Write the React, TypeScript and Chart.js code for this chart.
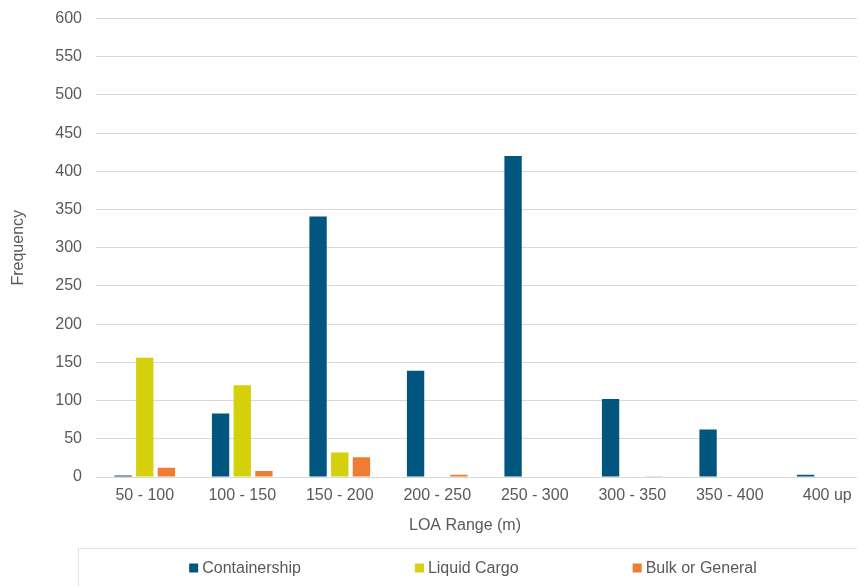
import React, { useEffect, useRef } from "react";
import { Chart, registerables } from "chart.js";

Chart.register(...registerables);

const categories = ["50 - 100", "100 - 150", "150 - 200", "200 - 250", "250 - 300", "300 - 350", "350 - 400", "400 up"];
const containership = [2, 83, 341, 139, 420, 102, 62, 3];
const liquidCargo = [156, 120, 32, 0, 0, 0, 0, 0];
const bulkOrGeneral = [12, 8, 26, 3, 0, 1, 0, 0];
const seriesNames = ["Containership", "Liquid Cargo", "Bulk or General"];
const seriesColors = ["#00567F", "#D4D00B", "#EE7D31"];
const xTitle = "LOA Range (m)";
const yTitle = "Frequency";

const FONT = "'Liberation Sans', Arial, sans-serif";
const TEXT = "#595959";

const decorPlugin = {
  id: "decor",
  afterDraw(chart: any) {
    const { ctx, chartArea } = chart;
    ctx.save();
    // x-axis title
    ctx.font = `16px ${FONT}`;
    ctx.fillStyle = TEXT;
    ctx.textAlign = "center";
    ctx.textBaseline = "middle";
    const cx = 457;
    ctx.fillText(xTitle, cx, chartArea.bottom + 49);
    // legend frame
    ctx.strokeStyle = "#e3e3e3";
    ctx.lineWidth = 1;
    ctx.strokeRect(70.5, chartArea.bottom + 71.5, 781, 80);
    // legend items
    const box = 9;
    const gapText = 4;
    const gapItem = 114;
    const widths = chart.data.datasets.map((d: any) => box + gapText + ctx.measureText(d.label).width);
    const total = widths.reduce((a: number, b: number) => a + b, 0) + gapItem * (widths.length - 1);
    let x = 465 - total / 2;
    const ly = chartArea.bottom + 91;
    ctx.textAlign = "left";
    chart.data.datasets.forEach((d: any, i: number) => {
      ctx.fillStyle = d.backgroundColor;
      ctx.fillRect(x, ly - box / 2, box, box);
      ctx.fillStyle = TEXT;
      ctx.fillText(d.label, x + box + gapText, ly + 0.5);
      x += widths[i] + gapItem;
    });
    ctx.restore();
  },
};

export default function App() {
  const ref = useRef<HTMLCanvasElement>(null);
  useEffect(() => {
    document.body.style.overflow = "hidden";
    const values = [containership, liquidCargo, bulkOrGeneral];
    const chart = new Chart(ref.current!, {
      type: "bar",
      data: {
        labels: categories,
        datasets: values.map((v, i) => ({
          label: seriesNames[i],
          data: v,
          backgroundColor: seriesColors[i],
          borderWidth: 0,
          categoryPercentage: 0.667,
          barPercentage: 0.8,
        })),
      },
      options: {
        animation: false,
        responsive: false,
        maintainAspectRatio: false,
        layout: { padding: { top: 10.5, right: 2, bottom: 69, left: 0 } },
        plugins: {
          legend: { display: false },
          tooltip: { enabled: false },
        },
        scales: {
          x: {
            grid: { display: false, drawTicks: false },
            border: { display: false },
            ticks: { color: TEXT, font: { family: FONT, size: 16 }, padding: 9, maxRotation: 0 },
            afterFit: (s: any) => { s.height = 40; s.paddingLeft = 0; s.paddingRight = 0; },
          },
          y: {
            min: 0,
            max: 600,
            ticks: { stepSize: 50, color: TEXT, font: { family: FONT, size: 16 }, padding: 14 },
            grid: { color: "#d9d9d9", drawTicks: false, lineWidth: 1 },
            border: { display: false },
            title: { display: true, text: yTitle, color: TEXT, font: { family: FONT, size: 16 }, padding: { top: 1, bottom: 0 } },
            afterFit: (s: any) => { s.width = 88; s.paddingTop = 0; s.paddingBottom = 0; },
          },
        },
      },
      plugins: [decorPlugin],
    });
    return () => chart.destroy();
  }, []);
  return (
    <div style={{ width: 857, height: 578, overflow: "hidden" }}>
      <canvas ref={ref} width={870} height={578} style={{ display: "block" }} />
    </div>
  );
}
